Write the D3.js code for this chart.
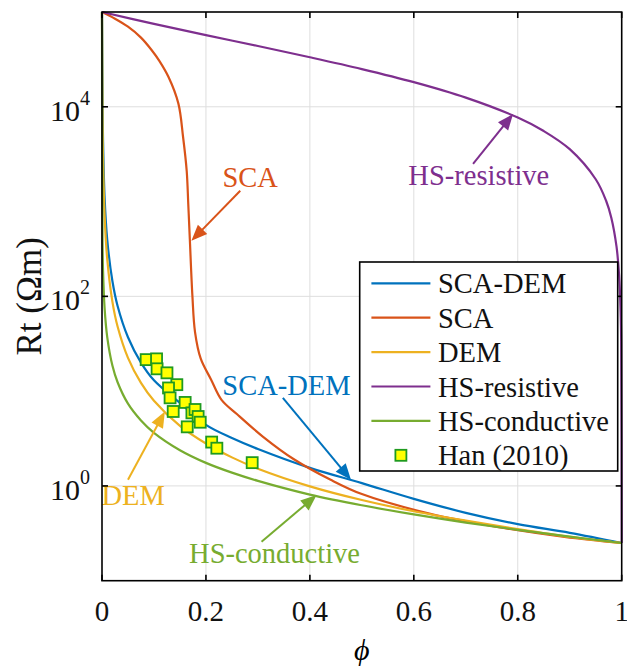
<!DOCTYPE html>
<html lang="en">
<head>
<meta charset="UTF-8">
<script src="https://cdn.jsdelivr.net/npm/d3@7/dist/d3.min.js"></script>
<title>Rt vs porosity</title>
<style>
  body { margin: 0; background: #fff; }
  svg text { font-family: "Liberation Serif", "DejaVu Serif", serif; }
</style>
</head>
<body>
<div id="chart"></div>
<script>

// curves: porosity (phi) and Rt (ohm-m)
const scaDemPhi = [0, 0.001, 0.002, 0.005, 0.01, 0.02, 0.03, 0.05, 0.075, 0.1, 0.15, 0.2, 0.25, 0.3, 0.4, 0.5, 0.6, 0.7, 0.8, 0.9, 1];
const scaDemRt  = [1e5, 12000, 4500, 1100, 400, 145, 79, 37, 20, 13, 7.5, 4.4, 3.2, 2.45, 1.55, 1.07, 0.73, 0.52, 0.395, 0.32, 0.25];

const scaPhi = [0, 0.025, 0.05, 0.075, 0.095, 0.11, 0.128, 0.147, 0.156, 0.163, 0.166, 0.169, 0.174, 0.179, 0.19, 0.21, 0.23, 0.26, 0.31, 0.37, 0.44, 0.5, 0.63, 0.76, 0.89, 1];
const scaRt  = [1e5, 85000, 70000, 53700, 40000, 30700, 20600, 10800, 4800, 2100, 940, 400, 100, 42, 22, 13.2, 8.1, 5.7, 3.3, 1.9, 1.16, 0.82, 0.51, 0.37, 0.29, 0.25];

const demPhi = [0, 0.001, 0.002, 0.005, 0.01, 0.02, 0.03, 0.05, 0.075, 0.1, 0.15, 0.2, 0.25, 0.3, 0.4, 0.5, 0.6, 0.7, 0.8, 0.9, 1];
const demRt  = [1e5, 7350, 2800, 707, 250, 88, 48, 22.4, 12.2, 7.9, 4.3, 2.8, 2.0, 1.52, 0.99, 0.71, 0.54, 0.43, 0.35, 0.29, 0.25];

const hsResPhi = [0, 0.1, 0.2, 0.3, 0.4, 0.5, 0.6, 0.7, 0.8, 0.85, 0.9, 0.95, 0.97, 0.98, 0.99, 0.995, 0.998, 0.999, 1];
const hsResRt  = [1e5, 75000, 57000, 43750, 33300, 25000, 18200, 12500, 7700, 5550, 3570, 1720, 1020, 676, 336, 168, 67, 33.6, 0.25];

const hsConPhi = [0, 0.001, 0.002, 0.005, 0.01, 0.02, 0.03, 0.05, 0.075, 0.1, 0.15, 0.2, 0.25, 0.3, 0.4, 0.5, 0.6, 0.7, 0.8, 0.9, 1];
const hsConRt  = [1e5, 373, 187, 75, 37.4, 18.6, 12.4, 7.37, 4.9, 3.63, 2.38, 1.75, 1.38, 1.13, 0.81, 0.625, 0.5, 0.41, 0.344, 0.292, 0.25];

// Han (2010) measurements
const hanPhi = [0.085, 0.105, 0.106, 0.125, 0.144, 0.128, 0.131, 0.16, 0.137, 0.173, 0.179, 0.185, 0.189, 0.164, 0.211, 0.221, 0.289];
const hanRt  = [21.5, 21.9, 17.2, 15.6, 11.7, 10.8, 8.5, 7.6, 6.1, 5.9, 6.4, 5.4, 4.7, 4.2, 2.9, 2.5, 1.76];

const seriesNames = ["SCA-DEM", "SCA", "DEM", "HS-resistive", "HS-conductive"];
const xTicks = [0, 0.2, 0.4, 0.6, 0.8, 1];
const xTickLabels = ["0", "0.2", "0.4", "0.6", "0.8", "1"];
const yTicks = [1, 100, 10000];
const yTickExp = ["0", "2", "4"];

const width = 627, height = 668;
const margin = {top: 12, right: 5.3, bottom: 87.3, left: 102};
const colours = ["#0072BD", "#D95319", "#EDB120", "#7E2F8E", "#77AC30"];

const series = [
  {name: seriesNames[0], phi: scaDemPhi, rt: scaDemRt},
  {name: seriesNames[1], phi: scaPhi,    rt: scaRt},
  {name: seriesNames[2], phi: demPhi,    rt: demRt},
  {name: seriesNames[3], phi: hsResPhi,  rt: hsResRt},
  {name: seriesNames[4], phi: hsConPhi,  rt: hsConRt}
].map((s, i) => ({...s, colour: colours[i], pts: s.phi.map((p, j) => [p, s.rt[j]])}));

const svg = d3.select("#chart").append("svg")
  .attr("width", width).attr("height", height)
  .attr("viewBox", [0, 0, width, height]);

const x = d3.scaleLinear().domain([0, 1]).range([margin.left, width - margin.right]);
const y = d3.scaleLog().domain([0.1, 1e5]).range([height - margin.bottom, margin.top]);
const x0 = x.range()[0], x1 = x.range()[1], y0 = y.range()[0], y1 = y.range()[1];

// grid
const grid = svg.append("g").attr("stroke", "#dedede").attr("stroke-width", 1);
grid.selectAll(".gx").data(xTicks.slice(1, -1)).join("line")
  .attr("x1", d => x(d)).attr("x2", d => x(d)).attr("y1", y1).attr("y2", y0);
grid.selectAll(".gy").data(yTicks).join("line")
  .attr("x1", x0).attr("x2", x1).attr("y1", d => y(d)).attr("y2", d => y(d));

// curves
const line = d3.line().x(d => x(d[0])).y(d => y(d[1])).curve(d3.curveCatmullRom.alpha(0.5));
svg.append("g").attr("fill", "none").attr("stroke-width", 2.2)
  .selectAll("path").data(series).join("path")
  .attr("stroke", d => d.colour)
  .attr("d", d => line(d.pts));

// Han (2010) squares
const sq = 11;
svg.append("g").selectAll("rect").data(hanPhi.map((p, i) => [p, hanRt[i]])).join("rect")
  .attr("x", d => x(d[0]) - sq / 2).attr("y", d => y(d[1]) - sq / 2)
  .attr("width", sq).attr("height", sq)
  .attr("fill", "#ffff00").attr("stroke", "#1f9a1f").attr("stroke-width", 1.8);

// annotations with arrows (in data units)
const annos = [
  {i: 1, text: "SCA",           at: [0.285, 1420],  from: [0.266, 1300], to: [0.172, 385]},
  {i: 3, text: "HS-resistive",  at: [0.725, 1500],  from: [0.714, 2500], to: [0.791, 8400]},
  {i: 0, text: "SCA-DEM",       at: [0.355, 9.2],   from: [0.348, 8.5],  to: [0.479, 1.16]},
  {i: 2, text: "DEM",           at: [0.06, 0.63],   from: [0.05, 1.16],  to: [0.121, 6.1]},
  {i: 4, text: "HS-conductive", at: [0.332, 0.153], from: [0.307, 0.258], to: [0.413, 0.80]}
];
const ag = svg.append("g");
annos.forEach(a => {
  const c = colours[a.i];
  const fx = x(a.from[0]), fy = y(a.from[1]), tx = x(a.to[0]), ty = y(a.to[1]);
  const len = Math.hypot(tx - fx, ty - fy), ux = (tx - fx) / len, uy = (ty - fy) / len;
  const hl = 16, hw = 6.5;
  const bx = tx - ux * hl, by = ty - uy * hl;
  ag.append("line").attr("x1", fx).attr("y1", fy).attr("x2", bx + ux * 2).attr("y2", by + uy * 2)
    .attr("stroke", c).attr("stroke-width", 2);
  ag.append("path")
    .attr("d", `M${tx},${ty}L${bx - uy * hw},${by + ux * hw}L${bx + uy * hw},${by - ux * hw}Z`)
    .attr("fill", c);
  ag.append("text").attr("x", x(a.at[0])).attr("y", y(a.at[1]))
    .attr("text-anchor", "middle").attr("font-size", 28.5).attr("fill", c)
    .text(a.text);
});

// axes box + inward ticks
const ax = svg.append("g").attr("stroke", "#000");
ax.append("rect").attr("x", x0).attr("y", y1).attr("width", x1 - x0).attr("height", y0 - y1)
  .attr("fill", "none").attr("stroke-width", 1.6);
const tl = 6;
xTicks.forEach(t => {
  ax.append("line").attr("x1", x(t)).attr("x2", x(t)).attr("y1", y0).attr("y2", y0 - tl).attr("stroke-width", 1.6);
  ax.append("line").attr("x1", x(t)).attr("x2", x(t)).attr("y1", y1).attr("y2", y1 + tl).attr("stroke-width", 1.6);
});
yTicks.forEach(t => {
  ax.append("line").attr("x1", x0).attr("x2", x0 + tl).attr("y1", y(t)).attr("y2", y(t)).attr("stroke-width", 1.6);
  ax.append("line").attr("x1", x1).attr("x2", x1 - tl).attr("y1", y(t)).attr("y2", y(t)).attr("stroke-width", 1.6);
});

svg.append("g").selectAll("text").data(xTicks).join("text")
  .attr("x", d => x(d)).attr("y", y0 + 40)
  .attr("text-anchor", "middle").attr("font-size", 29).attr("fill", "#111")
  .text((d, i) => xTickLabels[i]);

const yl = svg.append("g").selectAll("text").data(yTicks).join("text")
  .attr("x", x0 - 12).attr("y", d => y(d) + 14)
  .attr("text-anchor", "end").attr("font-size", 30).attr("fill", "#111");
yl.append("tspan").text("10");
yl.append("tspan").attr("font-size", 20).attr("dy", -16).text((d, i) => yTickExp[i]);

svg.append("text")
  .attr("x", (x0 + x1) / 2).attr("y", 660)
  .attr("text-anchor", "middle").attr("font-size", 30).attr("font-style", "italic")
  .text("ϕ");

svg.append("text")
  .attr("transform", `translate(41, ${y(100)}) rotate(-90)`)
  .attr("text-anchor", "middle").attr("font-size", 35).attr("fill", "#111")
  .text("Rt (Ωm)");

// legend
const lg = svg.append("g").attr("transform", `translate(${x1 - 262}, ${y1 + 250})`);
lg.append("rect").attr("width", 258).attr("height", 209)
  .attr("fill", "#fff").attr("stroke", "#000").attr("stroke-width", 1.6);
const rowH = 34.4;
series.forEach((s, i) => {
  const ry = 21.3 + i * rowH;
  lg.append("line").attr("x1", 11.7).attr("x2", 70.7).attr("y1", ry).attr("y2", ry)
    .attr("stroke", s.colour).attr("stroke-width", 2.2);
  lg.append("text").attr("x", 78.3).attr("y", ry + 10).attr("font-size", 28.5).attr("fill", "#111").text(s.name);
});
const hy = 21.3 + 5 * rowH;
lg.append("rect").attr("x", 41.2 - sq / 2).attr("y", hy - sq / 2).attr("width", sq).attr("height", sq)
  .attr("fill", "#ffff00").attr("stroke", "#1f9a1f").attr("stroke-width", 1.8);
lg.append("text").attr("x", 78.3).attr("y", hy + 10).attr("font-size", 28.5).attr("fill", "#111").text("Han (2010)");

</script>
</body>
</html>
